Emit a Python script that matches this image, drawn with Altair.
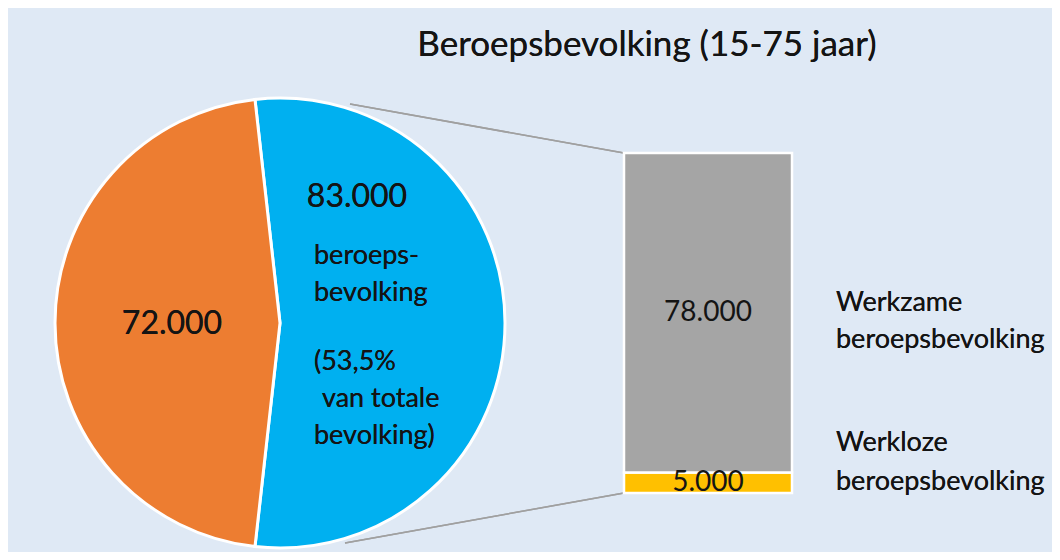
import math
import altair as alt
import pandas as pd

# ---- data ----
pie_labels = ["beroepsbevolking", "niet-beroepsbevolking"]
pie_values = [83000, 72000]
pie_colors = ["#00B0F0", "#ED7D31"]

bar_labels = ["Werkloze beroepsbevolking", "Werkzame beroepsbevolking"]
bar_values = [5000, 78000]
bar_colors = ["#FFC000", "#A5A5A5"]

title_text = "Beroepsbevolking (15-75 jaar)"
FONT = "Lato"
TXT = "#141414"
BG = "#DFE9F5"


def nl(v):
    return f"{v:,}".replace(",", ".")


pie_df = pd.DataFrame({"cat": pie_labels, "value": pie_values, "order": [0, 1]})
share = pie_values[0] / sum(pie_values)
start = math.pi / 2 - share * math.pi  # blue slice centred on 3 o'clock
theta_range = [start, start + 2 * math.pi]

CX, CY, R = 272, 315, 225

pie = alt.Chart(pie_df).mark_arc(outerRadius=R, stroke="white", strokeWidth=3).encode(
    theta=alt.Theta("value:Q", stack=True, scale=alt.Scale(range=theta_range)),
    color=alt.Color("cat:N", scale=alt.Scale(domain=pie_labels, range=pie_colors), legend=None),
    order=alt.Order("order:Q"),
    x=alt.value(CX),
    y=alt.value(CY),
)

bar_df = pd.DataFrame({
    "group": ["b", "b"],
    "cat": bar_labels,
    "value": bar_values,
    "order": [0, 1],
    "label": [nl(v) for v in bar_values],
})
ysc = alt.Scale(domain=[0, sum(bar_values)], range=[485, 145], nice=False, zero=True)
xsc = alt.Scale(domain=["b"], range=[616, 784], paddingInner=0, paddingOuter=0)

bar = alt.Chart(bar_df).mark_bar(stroke="white", strokeWidth=2.5).encode(
    x=alt.X("group:N", scale=xsc, axis=None),
    y=alt.Y("value:Q", stack=True, scale=ysc, axis=None),
    color=alt.Color("cat:N", scale=alt.Scale(domain=bar_labels, range=bar_colors), legend=None),
    order=alt.Order("order:Q"),
)

bar_text = alt.Chart(bar_df).transform_stack(
    stack="value", groupby=["group"], as_=["y0", "y1"], sort=[alt.SortField("order")]
).transform_calculate(mid="(datum.y0 + datum.y1) / 2").mark_text(
    font=FONT, fontSize=28, color=TXT, baseline="middle"
).encode(
    x=alt.X("group:N", scale=xsc, axis=None),
    y=alt.Y("mid:Q", scale=ysc, axis=None),
    text="label:N",
)

# connector lines
conn_top = alt.Chart(pie_df).mark_rule(color="#A0A0A0", strokeWidth=1.5).encode(
    x=alt.value(342), y=alt.value(96), x2=alt.value(616), y2=alt.value(145)
)
conn_bot = alt.Chart(pie_df).mark_rule(color="#A0A0A0", strokeWidth=1.5).encode(
    x=alt.value(337), y=alt.value(535), x2=alt.value(616), y2=alt.value(485)
)


def txt(text, x, y, size, align="center"):
    return alt.Chart(pie_df).mark_text(
        font=FONT, fontSize=size, color=TXT, align=align, baseline="middle"
    ).encode(x=alt.value(x), y=alt.value(y), text=alt.value(text))


S = 27
labels = [
    txt(title_text, 639, 37, 35),
    txt(nl(pie_values[1]), 164, 316, 32),
    txt(nl(pie_values[0]), 349, 189, 32),
    txt("beroeps-", 306, 248, S, "left"),
    txt("bevolking", 306, 285, S, "left"),
    txt("(53,5%", 306, 354, S, "left"),
    txt("van totale", 314, 391, S, "left"),
    txt("bevolking)", 306, 428, S, "left"),
    txt("Werkzame", 828, 295, S, "left"),
    txt("beroepsbevolking", 828, 332, S, "left"),
    txt("Werkloze", 828, 435, S, "left"),
    txt("beroepsbevolking", 828, 474, S, "left"),
]

chart = alt.layer(conn_top, conn_bot, pie, bar, bar_text, *labels).resolve_scale(
    x="independent", y="independent", color="independent", theta="independent"
).properties(
    width=1044, height=544, background=BG, padding=0,
    autosize=alt.AutoSizeParams(type="none"),
).configure_view(stroke=None)

chart.save("out.html", embed_options={"renderer": "svg", "actions": False})
